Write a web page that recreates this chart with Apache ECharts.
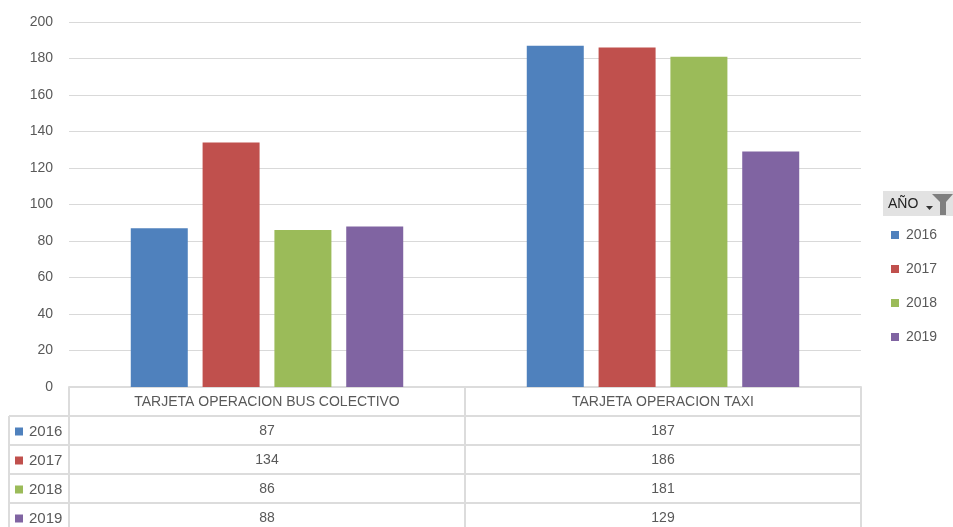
<!DOCTYPE html>
<html><head><meta charset="utf-8">
<script src="https://cdn.jsdelivr.net/npm/echarts@6/dist/echarts.min.js"></script>
<style>html,body{margin:0;padding:0;background:#fff}#c{width:953px;height:527px}</style>
</head><body><div id="c"></div>
<script>
const categories = ['TARJETA OPERACION BUS COLECTIVO', 'TARJETA OPERACION TAXI'];
const years = ['2016', '2017', '2018', '2019'];
const v2016 = [87, 187];
const v2017 = [134, 186];
const v2018 = [86, 181];
const v2019 = [88, 129];
const yTicks = [0, 20, 40, 60, 80, 100, 120, 140, 160, 180, 200];
const colors = ['#4F81BD', '#C0504D', '#9BBB59', '#8064A2'];
const seriesValues = [v2016, v2017, v2018, v2019];

const GL = 69, GR = 861, GT = 22, GB = 387, W = 953, H = 527, ROW = 29;
const textColor = '#595959';
const font = 'Liberation Sans, Arial, sans-serif';
const lineColor = '#dcdcdc';

const chart = echarts.init(document.getElementById('c'), null, {renderer: 'canvas'});

const xAxes = [{
  type: 'category', data: categories, gridIndex: 0, position: 'bottom',
  axisLine: {show: true, lineStyle: {color: lineColor, width: 2}},
  axisTick: {show: false},
  axisLabel: {color: textColor, fontFamily: font, fontSize: 14, margin: 8, interval: 0}
}];
seriesValues.forEach((vals, k) => {
  xAxes.push({
    type: 'category', data: categories, gridIndex: 0, position: 'bottom',
    offset: ROW * (k + 1),
    axisLine: {show: false}, axisTick: {show: false}, splitLine: {show: false},
    axisLabel: {color: textColor, fontFamily: font, fontSize: 14, margin: 8, interval: 0,
      formatter: (v, i) => String(vals[i])}
  });
});

const graphics = [];
const hl = (x1, x2, y) => graphics.push({type: 'line', shape: {x1, y1: y, x2, y2: y}, style: {stroke: lineColor, lineWidth: 2}, silent: true});
const vl = (x, y1, y2) => graphics.push({type: 'line', shape: {x1: x, y1, x2: x, y2}, style: {stroke: lineColor, lineWidth: 2}, silent: true});
for (let k = 1; k <= 4; k++) hl(9, GR, GB + ROW * k);
vl(9, GB + ROW, H);
vl(GL, GB, H);
vl((GL + GR) / 2, GB, H);
vl(GR, GB, H);
years.forEach((y, k) => {
  const cy = GB + ROW * (k + 1) + ROW / 2;
  graphics.push({type: 'rect', shape: {x: 15, y: cy - 3, width: 8, height: 8}, style: {fill: colors[k]}, silent: true});
  graphics.push({type: 'text', x: 29, y: cy + 1, style: {text: y, fill: textColor, font: '15px ' + font, verticalAlign: 'middle'}, silent: true});
});
graphics.push({type: 'rect', shape: {x: 883, y: 191, width: 70, height: 25}, style: {fill: '#e2e2e2'}, silent: true});
graphics.push({type: 'text', x: 888, y: 204, style: {text: 'AÑO', fill: '#222', font: '14px ' + font, verticalAlign: 'middle'}, silent: true});
graphics.push({type: 'polygon', shape: {points: [[926, 206], [933, 206], [929.5, 210]]}, style: {fill: '#333'}, silent: true});
graphics.push({type: 'polygon', shape: {points: [[932, 194], [953, 194], [946, 202], [946, 215], [940, 215], [940, 202]]}, style: {fill: '#7f7f7f'}, silent: true});

const option = {
  animation: false,
  backgroundColor: '#fff',
  grid: {left: GL, right: W - GR, top: GT, bottom: H - GB, containLabel: false},
  legend: {
    orient: 'vertical', left: 886, top: 223, itemWidth: 8, itemHeight: 8, itemGap: 20,
    icon: 'rect', data: years,
    textStyle: {color: textColor, fontFamily: font, fontSize: 14, padding: [0, 0, 0, 2]}
  },
  xAxis: xAxes,
  yAxis: {
    type: 'value', min: 0, max: 200, interval: 20,
    axisLine: {show: false}, axisTick: {show: false},
    axisLabel: {color: textColor, fontFamily: font, fontSize: 14, margin: 16,
      formatter: v => yTicks.includes(v) ? String(v) : ''},
    splitLine: {lineStyle: {color: '#d9d9d9', width: 1}}
  },
  series: years.map((y, k) => ({
    name: y, type: 'bar', data: seriesValues[k], xAxisIndex: 0,
    barWidth: 57, barGap: '26%', itemStyle: {color: colors[k]}
  })),
  graphic: graphics
};
chart.setOption(option);
</script></body></html>
